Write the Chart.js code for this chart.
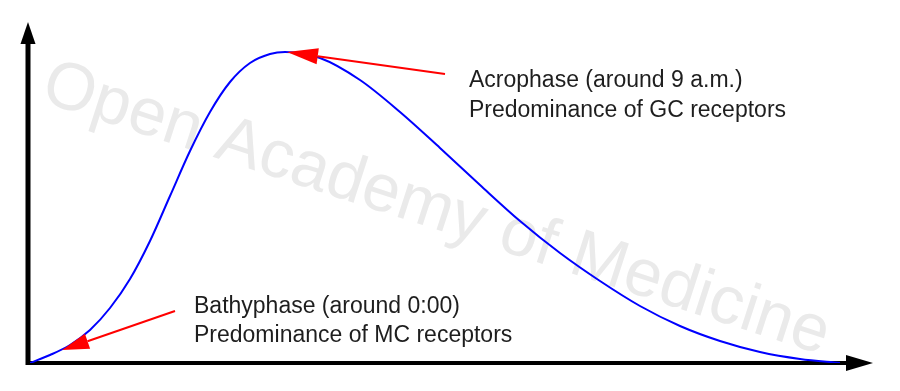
<!DOCTYPE html>
<html>
<head>
<meta charset="utf-8">
<script src="https://cdn.jsdelivr.net/npm/chart.js@4"></script>
<style>
  html, body { margin: 0; padding: 0; background: #fff; }
  #wrap { width: 900px; height: 391px; }
</style>
</head>
<body>
<div id="wrap"><canvas id="cortisolChart" width="900" height="391"></canvas></div>
<script>
// Curve data (arbitrary time / level units)
const timeValues = [0, 20, 40, 60, 80, 100, 120, 140, 160, 180, 200, 220, 240, 255, 290, 330, 370, 410, 450, 490, 530, 570, 610, 650, 690, 730, 770, 810];
const levelValues = [0, 8, 18, 33, 55, 84, 122, 167, 212, 251, 281, 300, 309, 311, 305, 283, 251, 215, 178, 142, 110, 82, 57, 37, 22, 11, 4, 0];

// Axis extents
const timeMax = 843;
const levelMax = 341;

// Annotations: arrow [tail, tip] and two text lines
const acroArrow = [[415, 289], [257, 311]];
const acroLabel = ['Acrophase (around 9 a.m.)', 'Predominance of GC receptors'];
const acroLabelAt = [439, 276];

const bathyArrow = [[145, 52], [32, 13]];
const bathyLabel = ['Bathyphase (around 0:00)', 'Predominance of MC receptors'];
const bathyLabelAt = [164, 50];

const watermark = 'Open Academy of Medicine';

const points = timeValues.map((t, i) => ({ x: t, y: levelValues[i] }));

function drawArrow(ctx, x1, y1, x2, y2, len, half, color, width) {
    const ang = Math.atan2(y2 - y1, x2 - x1);
    const bx = x2 - len * Math.cos(ang);
    const by = y2 - len * Math.sin(ang);
    ctx.strokeStyle = color;
    ctx.fillStyle = color;
    ctx.lineWidth = width;
    ctx.beginPath();
    ctx.moveTo(x1, y1);
    ctx.lineTo(bx, by);
    ctx.stroke();
    ctx.beginPath();
    ctx.moveTo(x2, y2);
    ctx.lineTo(bx + half * Math.sin(ang), by - half * Math.cos(ang));
    ctx.lineTo(bx - half * Math.sin(ang), by + half * Math.cos(ang));
    ctx.closePath();
    ctx.fill();
}

// watermark behind everything
const watermarkPlugin = {
    id: 'watermark',
    beforeDatasetsDraw(chart) {
        const ctx = chart.ctx;
        ctx.save();
        ctx.translate(436, 210);
        ctx.rotate(18 * Math.PI / 180);
        ctx.font = '67px "Liberation Sans", Arial, sans-serif';
        ctx.fillStyle = '#eaeaea';
        ctx.textAlign = 'center';
        ctx.textBaseline = 'middle';
        ctx.fillText(watermark, 0, 0);
        ctx.restore();
    }
};

// axes with arrowheads
const axesPlugin = {
    id: 'arrowAxes',
    beforeDatasetsDraw(chart) {
        const ctx = chart.ctx;
        const xs = chart.scales.x, ys = chart.scales.y;
        const x0 = xs.getPixelForValue(0) - 2, y0 = ys.getPixelForValue(0);
        const xe = xs.getPixelForValue(timeMax), ye = ys.getPixelForValue(levelMax);
        ctx.save();
        drawArrow(ctx, x0, y0 + 2, x0, ye, 22, 7.5, '#000', 5);
        drawArrow(ctx, x0 - 2, y0, xe, y0, 27, 8, '#000', 4);
        ctx.restore();
    }
};

// red arrows and labels on top
const notesPlugin = {
    id: 'notes',
    afterDatasetsDraw(chart) {
        const ctx = chart.ctx;
        const xs = chart.scales.x, ys = chart.scales.y;
        const px = v => xs.getPixelForValue(v), py = v => ys.getPixelForValue(v);
        ctx.save();
        drawArrow(ctx, px(acroArrow[0][0]), py(acroArrow[0][1]), px(acroArrow[1][0]), py(acroArrow[1][1]), 31, 8, '#ff0000', 2);
        drawArrow(ctx, px(bathyArrow[0][0]), py(bathyArrow[0][1]), px(bathyArrow[1][0]), py(bathyArrow[1][1]), 27, 8, '#ff0000', 2);
        ctx.font = '23px "Liberation Sans", Arial, sans-serif';
        ctx.fillStyle = '#1e1e1e';
        ctx.textBaseline = 'alphabetic';
        acroLabel.forEach((s, i) => ctx.fillText(s, px(acroLabelAt[0]), py(acroLabelAt[1]) + i * 30));
        bathyLabel.forEach((s, i) => ctx.fillText(s, px(bathyLabelAt[0]), py(bathyLabelAt[1]) + i * 29));
        ctx.restore();
    }
};

const ctx = document.getElementById('cortisolChart');
const chart = new Chart(ctx, {
    type: 'scatter',
    data: {
        datasets: [{
            data: points,
            showLine: true,
            borderColor: '#0000ff',
            borderWidth: 2,
            pointRadius: 0,
            cubicInterpolationMode: 'monotone',
            fill: false
        }]
    },
    options: {
        responsive: false,
        animation: false,
        layout: { padding: { left: 30, right: 27, top: 22, bottom: 28 } },
        plugins: { legend: { display: false }, tooltip: { enabled: false } },
        scales: {
            x: { type: 'linear', display: false, min: 0, max: timeMax },
            y: { type: 'linear', display: false, min: 0, max: levelMax }
        }
    },
    plugins: [watermarkPlugin, axesPlugin, notesPlugin]
});
</script>
</body>
</html>
